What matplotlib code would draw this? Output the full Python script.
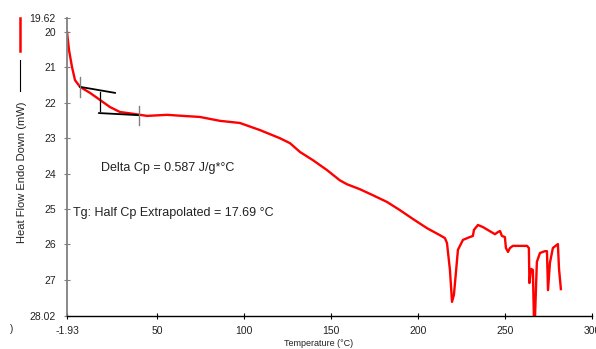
import matplotlib
matplotlib.use('Agg')

import matplotlib.pyplot as plt
from matplotlib.lines import Line2D

# DSC trace (temperature in degC, heat flow in mW)
temp = [-1.93, -0.78, 0.95, 2.67, 5.55, 11.3, 17.05, 22.8, 28.5, 36.0, 44.1,
        55.6, 64.8, 74.5, 86.05, 97.5, 109.0, 120.5, 126.3, 132.1, 139.5,
        147.6, 155.0, 159.1, 166.5, 174.0, 182.1, 189.5, 197.0, 205.1, 212.6,
        215.4, 216.6, 218.3, 219.5, 220.6, 221.2, 222.9, 225.8, 229.8, 231.5,
        232.1, 234.4, 237.3, 244.2, 245.9, 247.1, 248.2, 249.9, 250.5, 251.7,
        252.8, 254.5, 262.6, 263.7, 264.0, 264.9, 266.0, 266.6, 267.2, 267.8,
        268.3, 270.1, 272.9, 274.1, 274.7, 275.8, 277.5, 279.8, 280.4, 281.0,
        282.1]
heat_flow = [20.00, 20.51, 20.99, 21.36, 21.55, 21.72, 21.92, 22.12, 22.26,
             22.31, 22.37, 22.34, 22.37, 22.40, 22.51, 22.57, 22.77, 23.00,
             23.14, 23.39, 23.62, 23.90, 24.19, 24.30, 24.44, 24.61, 24.80,
             25.03, 25.28, 25.54, 25.74, 25.82, 25.96, 26.72, 27.62, 27.42,
             27.09, 26.15, 25.87, 25.79, 25.76, 25.59, 25.45, 25.51, 25.71,
             25.65, 25.62, 25.76, 25.79, 26.10, 26.21, 26.10, 26.04, 26.04,
             26.10, 27.09, 26.69, 26.72, 28.10, 28.10, 27.20, 26.49, 26.24,
             26.19, 26.19, 27.29, 26.52, 26.10, 26.01, 25.99, 26.67, 27.26]

# glass transition construction lines
onset_tangent_x = [5.55, 25.67]
onset_tangent_y = [21.55, 21.72]
end_tangent_x = [16.5, 39.5]
end_tangent_y = [22.29, 22.35]
half_cp_x = 17.05
half_cp_y = [21.69, 22.22]
limit_x = [5.55, 39.5]
limit_y = [[21.27, 21.84], [22.09, 22.63]]

x_ticks = [-1.93, 50, 100, 150, 200, 250, 300]
x_ticklabels = ['-1.93', '50', '100', '150', '200', '250', '300']
y_ticks = [19.62, 20, 21, 22, 23, 24, 25, 26, 27, 28.02]
y_ticklabels = ['19.62', '20', '21', '22', '23', '24', '25', '26', '27', '28.02']

plt.rcParams['font.family'] = ['Liberation Sans', 'DejaVu Sans']
txt = '#222222'

fig = plt.figure(figsize=(5.96, 3.49), dpi=100)
ax = fig.add_axes([67 / 596, 33 / 349, 525 / 596, 297.5 / 349])

ax.plot(temp, heat_flow, color='#ff0000', lw=1.7, solid_joinstyle='round')
ax.plot(onset_tangent_x, onset_tangent_y, color='black', lw=1.3)
ax.plot(end_tangent_x, end_tangent_y, color='black', lw=1.3)
ax.plot([half_cp_x, half_cp_x], half_cp_y, color='black', lw=0.9)
for lx, ly in zip(limit_x, limit_y):
    ax.plot([lx, lx], ly, color='#808080', lw=1.0)

ax.set_xlim(-1.93, 300)
ax.set_ylim(28.02, 19.62)
ax.set_xticks(x_ticks)
ax.set_xticklabels(x_ticklabels)
ax.set_yticks(y_ticks)
ax.set_yticklabels(y_ticklabels)
ax.tick_params(axis='both', labelsize=7.5, colors=txt, direction='inout',
               length=4, width=0.8)
ax.tick_params(axis='y', pad=6, color='#808080')
ax.tick_params(axis='x', pad=5, color='black')

for side in ['top', 'right']:
    ax.spines[side].set_visible(False)
ax.spines['left'].set_color('#808080')
ax.spines['left'].set_linewidth(1.3)
ax.spines['bottom'].set_color('black')
ax.spines['bottom'].set_linewidth(1.0)

ax.set_xlabel('Temperature (°C)', fontsize=6.5, color=txt)
ax.xaxis.set_label_coords((319 - 67) / 525, -27 / 297.5)
ax.xaxis.label.set_va('center')
fig.text(22 / 596, 1 - 172 / 349, 'Heat Flow Endo Down (mW)', rotation=90,
         fontsize=8, color=txt, ha='center', va='center')

ax.text(101 / 596, 1 - 168 / 349, 'Delta Cp = 0.587 J/g*°C', transform=fig.transFigure,
        fontsize=9, color=txt, va='center')
ax.text(73 / 596, 1 - 213 / 349, 'Tg: Half Cp Extrapolated = 17.69 °C',
        transform=fig.transFigure, fontsize=9, color=txt, va='center')

# legend swatches drawn to the left of the y label
fig.add_artist(Line2D([20 / 596, 20 / 596], [1 - 18 / 349, 1 - 51 / 349],
                      color='#ff0000', lw=1.8))
fig.add_artist(Line2D([20 / 596, 20 / 596], [1 - 60 / 349, 1 - 91 / 349],
                      color='black', lw=0.8))
fig.text(12 / 596, 1 - 329 / 349, ')', fontsize=7, color=txt, ha='center', va='center')

fig.savefig('out.png', dpi=100)
